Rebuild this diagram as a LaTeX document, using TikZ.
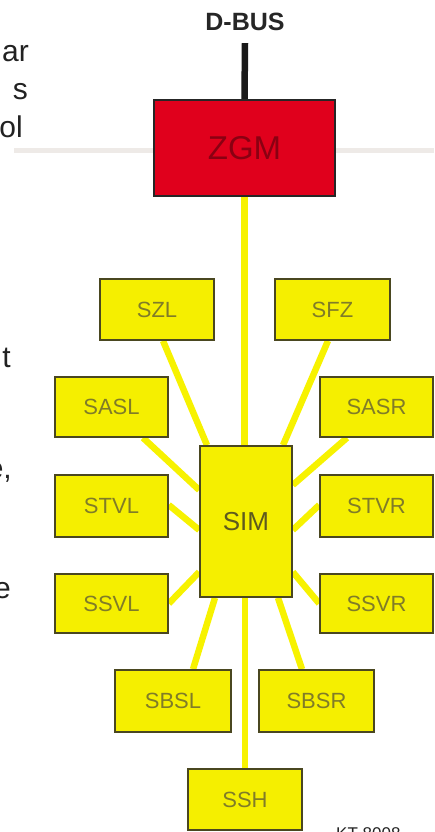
\documentclass[tikz,border=0pt]{standalone}
\usepackage{fontspec}
\setmainfont{Liberation Sans}
\usetikzlibrary{backgrounds}
\definecolor{boxyellow}{HTML}{F5EF00}
\definecolor{lineyellow}{HTML}{F7F200}
\definecolor{boxedge}{HTML}{4A4720}
\definecolor{boxtext}{HTML}{807C28}
\definecolor{simtext}{HTML}{5E5A1E}
\definecolor{zgmred}{HTML}{E0001C}
\definecolor{zgmtext}{HTML}{8A0012}
\definecolor{lightgray}{HTML}{EEEAE7}
\definecolor{fragtext}{HTML}{222222}
\tikzset{
  ybox/.style={draw=boxedge, line width=1.6pt, fill=boxyellow, rectangle,
    inner sep=0pt, text=boxtext, font=\fontsize{22}{24}\selectfont},
  link/.style={draw=lineyellow, line width=6.5pt},
  frag/.style={text=fragtext, font=\fontsize{30}{32}\selectfont, inner sep=0pt}
}
\begin{document}
\begin{tikzpicture}[x=1pt,y=-1pt]
\useasboundingbox (0,0) rectangle (434,832);
% stray gray rule
\coordinate (gl) at (14,150);
\coordinate (gr) at (434,150);
\draw[lightgray, line width=5pt] (gl) -- (gr);
% left text fragments
\node[frag, anchor=base east] (f1) at (29,62) {ar};
\node[frag, anchor=base east] (f2) at (28,100) {s};
\node[frag, anchor=base east] (f3) at (23,137) {ol};
\node[frag, anchor=base east] (f4) at (11,367) {t};
\node[frag, anchor=base east] (f5) at (12,478) {e,};
\node[frag, anchor=base east] (f6) at (11,598) {e};
\node[text=fragtext, font=\fontsize{17}{18}\selectfont, anchor=base west, inner sep=0pt] (kt) at (336,839) {KT-8008};
% D-BUS and ZGM
\node[font=\fontsize{25}{26}\selectfont\bfseries, inner sep=0pt, text=black!85] (dbus) at (245,22) {D-BUS};
\node[draw=black!85, line width=2pt, fill=zgmred, minimum width=181pt, minimum height=96pt, inner sep=0pt,
  text=zgmtext, font=\fontsize{33}{34}\selectfont] (zgm) at (244.5,148) {ZGM};
% modules
\node[ybox, minimum width=114pt, minimum height=61pt] (szl) at (157,309.5) {SZL};
\node[ybox, minimum width=115pt, minimum height=61pt] (sfz) at (332.5,309.5) {SFZ};
\node[ybox, minimum width=113pt, minimum height=60pt] (sasl) at (111.5,407) {SASL};
\node[ybox, minimum width=113pt, minimum height=60pt] (sasr) at (376.5,407) {SASR};
\node[ybox, minimum width=113pt, minimum height=62pt] (stvl) at (111.5,506) {STVL};
\node[ybox, minimum width=113pt, minimum height=62pt] (stvr) at (376.5,506) {STVR};
\node[ybox, minimum width=113pt, minimum height=59pt] (ssvl) at (111.5,603.5) {SSVL};
\node[ybox, minimum width=113pt, minimum height=59pt] (ssvr) at (376.5,603.5) {SSVR};
\node[ybox, minimum width=92pt, minimum height=151pt, text=simtext, font=\fontsize{26}{28}\selectfont] (sim) at (246,521.5) {SIM};
\node[ybox, minimum width=116pt, minimum height=62pt] (sbsl) at (173,701) {SBSL};
\node[ybox, minimum width=115pt, minimum height=62pt] (sbsr) at (316.5,701) {SBSR};
\node[ybox, minimum width=114pt, minimum height=61pt] (ssh) at (245,799.5) {SSH};
% connectors
\begin{scope}[on background layer]
\draw[black!90, line width=6.5pt] ([yshift=-12pt]dbus.south) -- (zgm.north);
\draw[link] (zgm.south) -- (zgm.south |- sim.north);
\draw[link] ([xshift=6pt]szl.south) -- ([xshift=-39pt]sim.north);
\draw[link] ([xshift=-4.5pt]sfz.south) -- ([xshift=37pt]sim.north);
\draw[link] ([xshift=31.5pt]sasl.south) -- ([yshift=31.5pt]sim.west);
\draw[link] ([xshift=-29.5pt]sasr.south) -- ([yshift=36.5pt]sim.east);
\draw[link] ([yshift=1pt]stvl.east) -- ([yshift=-8.5pt]sim.west);
\draw[link] ([yshift=1pt]stvr.west) -- ([yshift=-8.5pt]sim.east);
\draw[link] (ssvl.east) -- ([yshift=-50.5pt]sim.west);
\draw[link] (ssvr.west) -- ([yshift=-50.5pt]sim.east);
\draw[link] ([xshift=20pt]sbsl.north) -- ([xshift=-31pt]sim.south);
\draw[link] ([xshift=-14.5pt]sbsr.north) -- ([xshift=32pt]sim.south);
\draw[link] (ssh.north) -- (ssh.north |- sim.south);
\end{scope}
\end{tikzpicture}
\end{document}
